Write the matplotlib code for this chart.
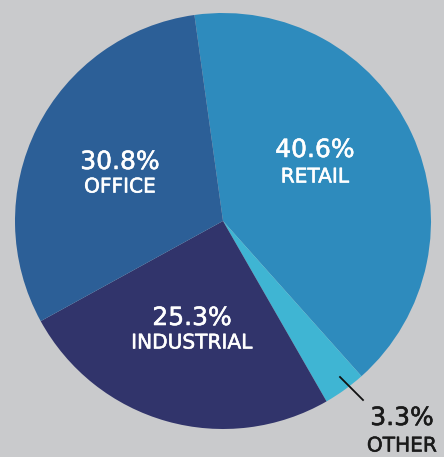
import matplotlib
matplotlib.use("Agg")
from matplotlib import pyplot as plt
from matplotlib import patheffects as pe

sectors = ["RETAIL", "OTHER", "INDUSTRIAL", "OFFICE"]
shares = [40.6, 3.3, 25.3, 30.8]
colors = ["#2e8bbd", "#3fb5d3", "#31346b", "#2c5f97"]

bg = "#c9cacc"
R = 208.0  # pie radius in pixels


def px(x, y):
    # pixel position in picture -> data coords (pie centre at 223, 221)
    return (x - 223) / R, (221 - y) / R


fig = plt.figure(figsize=(4.44, 4.57), dpi=100, facecolor=bg)
ax = fig.add_axes([0, 0, 1, 1])
ax.set_facecolor(bg)

ax.pie(shares, colors=colors, startangle=97.9, counterclock=False,
       radius=1, center=(0, 0), wedgeprops=dict(linewidth=0))

ax.set_xlim(-223 / R, 221 / R)
ax.set_ylim(-236 / R, 221 / R)
ax.set_aspect("equal")
ax.axis("off")

font = "DejaVu Sans"


def label(x, y, s, size, c):
    # thin stroke to get a medium weight out of the regular face
    ax.text(*px(x, y), s, color=c, fontsize=size, ha="center", va="center",
            family=font,
            path_effects=[pe.withStroke(linewidth=0.4, foreground=c)])


inner = {
    "RETAIL": (315, 150, 177),
    "OFFICE": (120, 162, 187),
    "INDUSTRIAL": (192, 318, 343),
}
for name, val in zip(sectors, shares):
    if name in inner:
        x, y1, y2 = inner[name]
        label(x, y1, f"{val}%", 18, "white")
        label(x, y2, name, 14.5, "white")

# small slice label outside with a leader line
other = shares[sectors.index("OTHER")]
ax.plot(*zip(px(340, 377), px(363, 400)), color="#111111", lw=1.3)
label(402, 418, f"{other}%", 18, "#1a1a1a")
label(402, 446, "OTHER", 14.5, "#1a1a1a")

fig.savefig("out.png", dpi=100, facecolor=bg)
